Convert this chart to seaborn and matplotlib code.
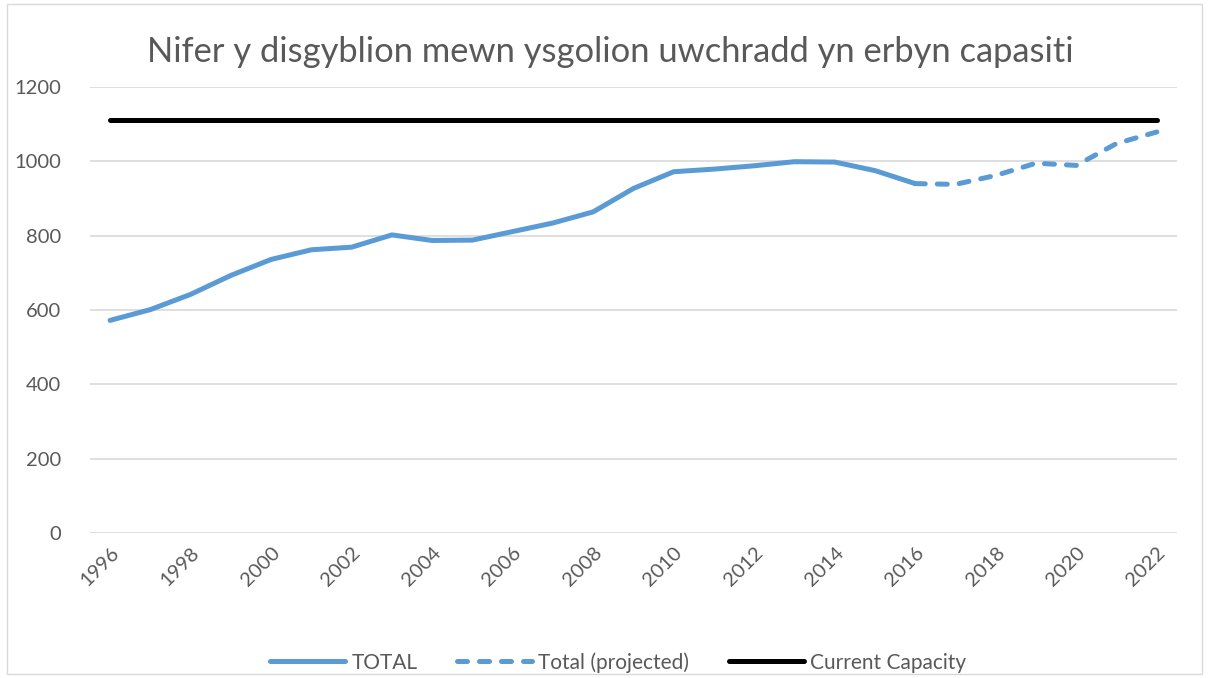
import pandas as pd
import matplotlib.pyplot as plt
import seaborn as sns
from matplotlib.patches import Rectangle

# data
years = list(range(1996, 2017))
total = [572, 601, 642, 693, 736, 762, 769, 802, 787, 788, 811,
         834, 864, 927, 972, 979, 988, 999, 998, 975, 940]
proj_years = list(range(2016, 2023))
projected = [940, 938, 962, 995, 989, 1048, 1079]
cap_years = list(range(1996, 2023))
capacity = 1110
x_ticks = list(range(1996, 2023, 2))
y_ticks = [0, 200, 400, 600, 800, 1000, 1200]

title = "Nifer y disgyblion mewn ysgolion uwchradd yn erbyn capasiti"
blue = "#5B9BD5"
text_grey = "#595959"

sns.set_theme(style="white")
plt.rcParams['font.family'] = ['Lato', 'DejaVu Sans']

df_total = pd.DataFrame({"year": years, "value": total})
df_proj = pd.DataFrame({"year": proj_years, "value": projected})
df_cap = pd.DataFrame({"year": cap_years, "value": [capacity] * len(cap_years)})

fig = plt.figure(figsize=(12.09, 6.78), dpi=100)
ax = fig.add_axes([0.0744, 0.2139, 0.8991, 0.6578])

sns.lineplot(data=df_total, x="year", y="value", ax=ax, color=blue,
             linewidth=3.6, label="TOTAL", solid_capstyle="round")
sns.lineplot(data=df_proj, x="year", y="value", ax=ax, color=blue,
             linewidth=3.6, label="Total (projected)")
ax.lines[-1].set_dashes((2, 2.4))
ax.lines[-1].set_dash_capstyle("round")
sns.lineplot(data=df_cap, x="year", y="value", ax=ax, color="black",
             linewidth=3.6, label="Current Capacity", solid_capstyle="round")

ax.set_xlim(1995.5, 2022.5)
ax.set_ylim(0, 1200)
ax.set_xticks(x_ticks)
ax.set_yticks(y_ticks)
ax.set_xticklabels([str(x) for x in x_ticks], rotation=45, ha="right",
                   rotation_mode="anchor")
ax.tick_params(axis="both", length=0, labelsize=14.5, labelcolor=text_grey)
ax.tick_params(axis="y", pad=21)
ax.tick_params(axis="x", pad=8)
ax.yaxis.grid(True, color="#D9D9D9", linewidth=1.2)
ax.set_axisbelow(True)
for s in ax.spines.values():
    s.set_visible(False)
ax.set_xlabel("")
ax.set_ylabel("")

fig.text(0.505, 0.923, title, ha="center", va="center", fontsize=24.8,
         color=text_grey)

ax.legend(loc="center", bbox_to_anchor=(0.486, -0.29), ncol=3,
          frameon=False, fontsize=15, handlelength=3.6, columnspacing=1.9,
          handletextpad=0.3, labelcolor=text_grey)

fig.patches.append(Rectangle((0.006, 0.006), 0.988, 0.988,
                             transform=fig.transFigure, fill=False,
                             edgecolor="#D9D9D9", linewidth=1))

fig.savefig("out.png", dpi=100)
